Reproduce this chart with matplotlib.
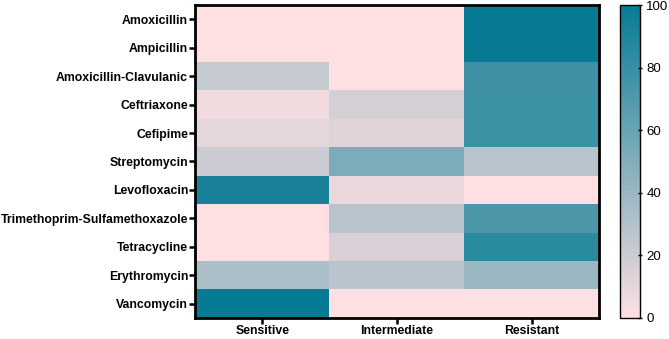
import numpy as np
import matplotlib.pyplot as plt
from matplotlib.colors import LinearSegmentedColormap

plt.rcParams['font.family'] = ['Liberation Sans', 'DejaVu Sans']

drugs = ['Amoxicillin', 'Ampicillin', 'Amoxicillin-Clavulanic', 'Ceftriaxone',
         'Cefipime', 'Streptomycin', 'Levofloxacin',
         'Trimethoprim-Sulfamethoxazole', 'Tetracycline', 'Erythromycin',
         'Vancomycin']
categories = ['Sensitive', 'Intermediate', 'Resistant']

sensitive = [0, 0, 23, 5, 10, 20, 92, 0, 0, 33, 100]
intermediate = [0, 0, 0, 17, 12, 52, 8, 28, 15, 27, 0]
resistant = [100, 100, 77, 78, 78, 28, 0, 72, 85, 40, 0]

data = np.array([sensitive, intermediate, resistant]).T

cmap = LinearSegmentedColormap.from_list('pk_teal', ['#fee0e3', '#067b93'])

fig = plt.figure(figsize=(6.69, 3.39), dpi=100)
ax = fig.add_axes([195/669, 1 - 318/339, 404/669, 313/339])
cax = fig.add_axes([620/669, 1 - 318/339, 20/669, 313/339])

im = ax.imshow(data, cmap=cmap, vmin=0, vmax=100, aspect='auto',
               interpolation='nearest')

ax.set_xticks(range(len(categories)))
ax.set_xticklabels(categories, fontweight='bold', fontsize=8.8)
ax.set_yticks(range(len(drugs)))
ax.set_yticklabels(drugs, fontweight='bold', fontsize=8.8)
ax.tick_params(axis='both', length=4, width=1.8, pad=1)
for s in ax.spines.values():
    s.set_linewidth(2)

cb = fig.colorbar(im, cax=cax, ticks=[0, 20, 40, 60, 80, 100])
cb.outline.set_linewidth(1)
cax.tick_params(length=3, width=1, direction='inout', labelsize=9.5, pad=3)

plt.savefig('out.png', dpi=100)
